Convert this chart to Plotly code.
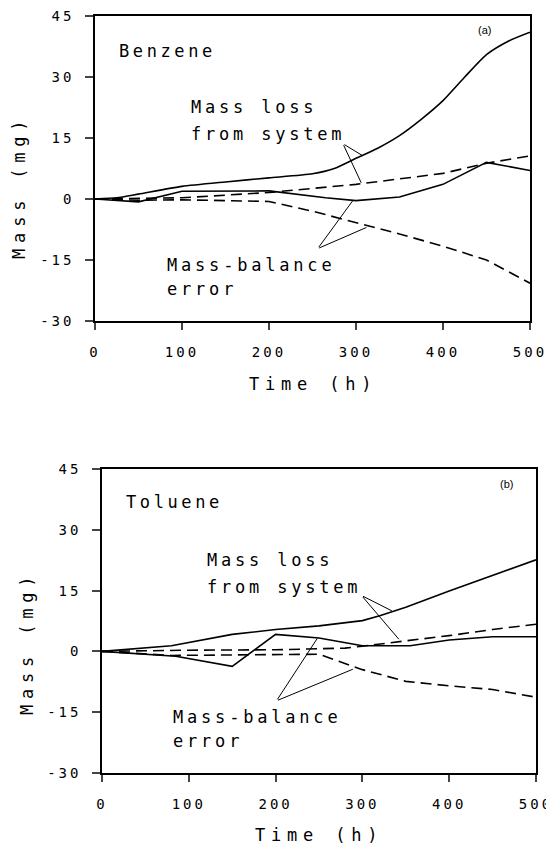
import plotly.graph_objects as go

# Benzene (a)
bz_loss_t = [0, 25, 50, 100, 150, 200, 250, 275, 300, 325, 350, 375, 400, 425, 450, 475, 500]
bz_loss = [0, 0.3, 1.2, 3.1, 4.2, 5.2, 6.2, 7.5, 10.0, 12.5, 15.6, 19.6, 24.2, 30.0, 35.5, 38.8, 41.0]
bz_err_t = [0, 30, 50, 100, 200, 265, 300, 350, 400, 450, 500]
bz_err = [0, -0.4, -0.7, 1.9, 2.0, 0.3, -0.4, 0.5, 3.6, 9.0, 7.0]
bz_loss_d_t = [0, 50, 100, 200, 300, 400, 450, 500]
bz_loss_d = [0, 0.1, 0.3, 1.6, 3.6, 6.3, 8.8, 10.6]
bz_err_d_t = [0, 50, 100, 200, 250, 300, 350, 400, 450, 500]
bz_err_d = [0, -0.3, -0.2, -0.6, -3.0, -5.8, -8.6, -11.6, -15.0, -20.7]

# Toluene (b)
tl_loss_t = [0, 80, 150, 200, 250, 300, 320, 350, 400, 450, 500]
tl_loss = [0, 1.4, 4.2, 5.4, 6.3, 7.6, 8.8, 10.9, 14.9, 18.7, 22.6]
tl_err_t = [0, 85, 150, 200, 250, 300, 355, 400, 450, 500]
tl_err = [0, -1.2, -3.7, 4.2, 3.3, 1.4, 1.4, 2.8, 3.6, 3.6]
tl_loss_d_t = [0, 100, 200, 280, 300, 350, 400, 450, 500]
tl_loss_d = [0, 0.3, 0.4, 0.8, 1.3, 2.6, 3.9, 5.4, 6.7]
tl_err_d_t = [0, 80, 250, 300, 350, 400, 450, 500]
tl_err_d = [0, -1.0, -0.7, -4.5, -7.4, -8.5, -9.4, -11.3]

x_ticks = [0, 100, 200, 300, 400, 500]
x_labels = ["0", "100", "200", "300", "400", "500"]
y_ticks = [-30, -15, 0, 15, 30, 45]
y_labels = ["-30", "-15", "0", "15", "30", "45"]

# leader lines: (vertex, [ends])
bz_leaders = [((285, 13.6), [(308, 10.6), (306, 4.0)]),
              ((256, -12.2), [(296, -0.5), (312, -7.0)])]
tl_leaders = [((299, 13.8), [(334, 10.0), (342, 3.0)]),
              ((201, -12.2), [(248, 3.2), (289, -4.4)])]

FONT = "DejaVu Sans Mono"
DASH = "11px,6px"


def spaced(text, px):
    # plotter-style wide lettering
    return '<span style="letter-spacing:%spx">%s</span>' % (px, text)


fig = go.Figure()


def add_panel(fig, xa, ya, series, leaders, name, tag, name_y):
    for t, v, dash, shape in series:
        fig.add_trace(go.Scatter(
            x=t, y=v, mode="lines", xaxis=xa, yaxis=ya, showlegend=False,
            line=dict(color="black", width=1.6, dash=dash, shape=shape, smoothing=0.6),
        ))
    xr, yr = xa, ya
    for (vx, vy), ends in leaders:
        for ex, ey in ends:
            fig.add_annotation(x=ex, y=ey, ax=vx, ay=vy, xref=xr, yref=yr,
                               axref=xr, ayref=yr, showarrow=True, arrowhead=0,
                               arrowwidth=1, arrowcolor="black", text="")
    txt = dict(xref=xr, yref=yr, showarrow=False, xanchor="left", yanchor="middle",
               font=dict(family=FONT, size=17, color="black"))
    fig.add_annotation(x=25, y=name_y, text=spaced(name, 3.6), **txt)
    fig.add_annotation(x=tag[0], y=tag[1], text=tag[2], xref=xr, yref=yr, showarrow=False,
                       xanchor="left", font=dict(family="Liberation Sans", size=11, color="black"))
    fig.add_annotation(x=tag[3], y=22.5, text=spaced("Mass loss", 3.8), **txt)
    fig.add_annotation(x=tag[3], y=15.9, text=spaced("from system", 3.8), **txt)
    fig.add_annotation(x=tag[4], y=-16.3, text=spaced("Mass-balance", 3.8), **txt)
    fig.add_annotation(x=tag[4], y=-22.2, text=spaced("error", 3.8), **txt)


add_panel(fig, "x", "y",
          [(bz_loss_t, bz_loss, "solid", "spline"), (bz_err_t, bz_err, "solid", "linear"),
           (bz_loss_d_t, bz_loss_d, DASH, "linear"), (bz_err_d_t, bz_err_d, DASH, "linear")],
          bz_leaders, "Benzene", (438, 41.6, "(a)", 108, 80), 36.3)
add_panel(fig, "x2", "y2",
          [(tl_loss_t, tl_loss, "solid", "linear"), (tl_err_t, tl_err, "solid", "linear"),
           (tl_loss_d_t, tl_loss_d, DASH, "linear"), (tl_err_d_t, tl_err_d, DASH, "linear")],
          tl_leaders, "Toluene", (456, 41.4, "(b)", 119, 79), 36.9)

xax = dict(range=[0, 500], tickvals=x_ticks, ticktext=[spaced(s, 3) for s in x_labels],
           ticks="outside", ticklen=7, tickwidth=1.5, automargin=False,
           ticklabeloverflow="allow",
           showline=True, linewidth=1.5, linecolor="black", mirror=True, showgrid=False,
           zeroline=False, tickfont=dict(family=FONT, size=14, color="black"),
           ticklabelstandoff=10)
yax = dict(range=[-30, 45], tickvals=y_ticks, ticktext=[spaced(s, 3) for s in y_labels],
           ticks="outside", ticklen=8, automargin=False,
           ticklabeloverflow="allow",
           tickwidth=1.5, showline=True, linewidth=1.5, linecolor="black", mirror=True,
           showgrid=False, zeroline=False, tickfont=dict(family=FONT, size=14, color="black"),
           ticklabelstandoff=8)

# page body has an 8px margin, so the figure is 8px smaller than the window
fig.update_layout(
    width=546, height=841, paper_bgcolor="white", plot_bgcolor="white",
    margin=dict(l=0, r=0, t=0, b=0),
    xaxis=dict(xax, domain=[0.1593, 0.9560], anchor="y"),
    yaxis=dict(yax, domain=[0.6278, 0.9905], anchor="x"),
    xaxis2=dict(xax, domain=[0.1722, 0.9670], anchor="y2"),
    yaxis2=dict(yax, domain=[0.0904, 0.4518], anchor="x2"),
)

# axis titles
title_font = dict(family=FONT, size=17, color="black")
for x, y in [(0.0201, 0.7872), (0.0348, 0.2449)]:
    fig.add_annotation(x=x, y=y, xref="paper", yref="paper", showarrow=False, textangle=-90,
                       xanchor="center", yanchor="middle",
                       text=spaced("Mass (mg)", 5.8), font=title_font)
for x, y in [(0.5586, 0.5529), (0.5705, 0.0166)]:
    fig.add_annotation(x=x, y=y, xref="paper", yref="paper", showarrow=False,
                       xanchor="center", yanchor="middle",
                       text=spaced("Time (h)", 5.8), font=title_font)

fig.write_html("out.html")
